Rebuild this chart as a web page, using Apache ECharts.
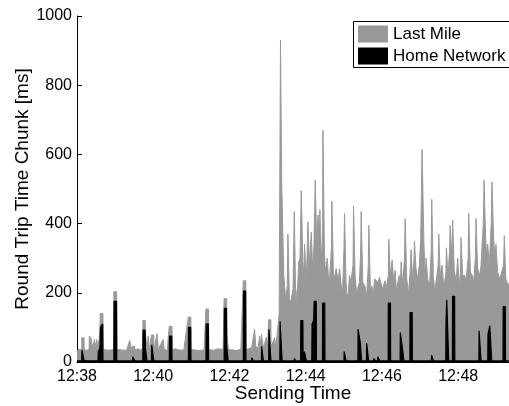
<!DOCTYPE html>
<html>
<head>
<meta charset="utf-8">
<script src="https://cdn.jsdelivr.net/npm/echarts@6/dist/echarts.min.js"></script>
<style>
html,body{margin:0;padding:0;background:#fff;}
#chart{width:509px;height:406px;}
</style>
</head>
<body>
<div id="chart"></div>
<script>
// x values: seconds after 12:38:00
var xTickLabels = ['12:38','12:40','12:42','12:44','12:46','12:48'];
var seriesNames = ['Last Mile','Home Network'];

// Last Mile (gray area top), [seconds, ms]
var lastMile = [[0,30],[2,36],[7.4,36],[7.6,70],[11,70],[11.4,36],[15,34],[19,36],[19.5,75],[21,75],[22,68],[24,72],[25,40],[27.5,65],[29,65],[30,38],[31,65],[32,38],[33,55],[35,65],[36.5,120],[36.8,140],[40.8,140],[41.2,36],[50,34],[57.7,36],[58,203],[62.5,203],[62.9,36],[70,35],[78,34],[83,63],[85,63],[85.5,38],[87.3,45],[90.8,45],[91.2,35],[96,38],[100,35],[103.4,40],[103.7,120],[107.5,120],[107.9,80],[109.8,75],[110.3,36],[112,75],[113.5,75],[114,36],[117.2,78],[120.8,78],[121.2,36],[126,82],[127.5,82],[128,36],[135.5,65],[137,65],[137.5,36],[142,34],[145.2,103],[149.5,103],[149.9,36],[155,38],[160,35],[168,34],[175.2,130],[179.2,130],[179.6,36],[185,35],[192,33],[200,35],[202.9,153],[207,153],[207.4,36],[215,34],[222,38],[230,36],[231.5,183],[235.5,183],[235.9,80],[237.8,80],[238.2,36],[245,35],[252,33],[258,38],[261.7,235],[265.7,235],[266.1,36],[270,38],[275,42],[277.5,42],[279.5,95],[281,95],[281.5,45],[285,40],[287.5,75],[289,75],[289.5,45],[290.3,80],[293.2,80],[293.6,40],[298,72],[299.5,72],[300,45],[301.7,122],[305.1,122],[305.5,45],[311,70],[312.5,70],[313,40],[316,45],[318.2,140],[319.4,140],[320.3,930],[321.6,930],[322.2,520],[324.5,515],[325.5,250],[328.5,180],[331,220],[332,370],[333.4,370],[334.5,170],[337,180],[340,210],[342,435],[343.4,435],[344.5,165],[346,200],[347.4,220],[349,290],[351,300],[353,495],[354.4,495],[355.5,290],[357,250],[358.2,340],[359.6,340],[360.8,230],[362,300],[363.5,405],[364.9,405],[366,280],[368.7,375],[370.1,375],[371.2,260],[373,340],[375,525],[376.4,525],[377.4,330],[379.2,425],[380.6,425],[381.5,360],[382.3,440],[383.7,440],[384.8,300],[386.5,350],[387.1,670],[388.5,670],[389.5,320],[391,260],[394,300],[396,240],[398,250],[400.5,330],[401.2,465],[402.6,465],[403.6,260],[405,240],[408,270],[409.4,270],[410.5,240],[412,250],[413.3,270],[414.7,270],[416,220],[418,200],[420.3,330],[421.1,430],[422.5,430],[423.5,230],[425,190],[427.1,200],[429,250],[431,230],[434.5,280],[435.3,450],[436.7,450],[437.8,250],[440,200],[442.8,200],[444.5,230],[446.5,320],[447.3,435],[448.7,435],[449.8,230],[453.3,220],[456,190],[458.5,280],[459.4,395],[460.8,395],[461.8,210],[464,220],[466.4,200],[468.5,240],[471.6,240],[474,230],[476,245],[478.4,240],[481,210],[484.7,235],[487,215],[490,250],[490.8,355],[492.2,355],[493.2,250],[496.1,295],[497.5,295],[498.5,230],[500.8,265],[502.2,265],[503,200],[505,230],[507.2,250],[509,220],[510.2,290],[511.6,290],[512.5,220],[515.5,300],[516.5,415],[517.9,415],[519,240],[521.9,200],[524,250],[525.9,325],[527.3,325],[528.5,230],[530.3,290],[531.2,350],[532.6,350],[533.6,270],[536,240],[539,280],[541,360],[543.2,615],[544.6,615],[546,350],[548,250],[549.5,300],[550.9,300],[552,240],[555,220],[557.5,320],[558.4,470],[559.8,470],[560.9,250],[563.3,200],[565,230],[568.5,280],[569.4,370],[570.8,370],[571.8,250],[574.7,280],[576.1,280],[577,220],[580.5,250],[581.5,330],[582.9,330],[584,250],[586.4,320],[587.3,395],[588.7,395],[589.5,300],[591.4,410],[592.8,410],[593.8,260],[597,240],[599.3,300],[600.7,300],[601.5,220],[603.6,260],[604.5,360],[605.9,360],[607,250],[610.5,250],[612,230],[615.7,300],[616.6,430],[618,430],[619.2,260],[622.5,250],[624.5,230],[627,300],[628.1,415],[629.5,415],[630.6,270],[634,250],[636,280],[639.5,400],[640.7,525],[642.1,525],[643.2,360],[645,300],[646.4,340],[647.8,340],[649,280],[652,400],[653.2,520],[654.6,520],[655.7,360],[658,300],[659.5,340],[660.9,340],[662,260],[665.5,240],[667,250],[671.5,280],[672.6,365],[674,365],[675,240],[677,230],[679.6,225],[682,220]];

// Home Network (black area), [seconds, ms]
var homeNetwork = [[0,3],[7.5,3],[7.8,35],[10.8,35],[11.2,4],[33,3],[33.5,30],[36,40],[37,100],[40.5,110],[40.9,3],[58,3],[58.3,175],[62.2,175],[62.6,3],[87.5,3],[87.8,15],[90.6,15],[91,3],[103.6,3],[103.9,92],[107.3,92],[107.7,40],[109.7,40],[110.1,3],[117.3,3],[117.6,50],[120.6,50],[121,3],[145.3,3],[145.6,75],[149.2,75],[149.6,3],[175.3,3],[175.6,100],[179,100],[179.4,3],[203,3],[203.3,110],[206.8,110],[207.2,3],[231.6,3],[231.9,155],[235.3,155],[235.7,45],[237.6,45],[238,3],[261.8,3],[262.1,205],[265.5,205],[265.9,3],[274.8,3],[275.1,12],[277.6,12],[278,3],[290.3,3],[290.6,45],[293,45],[293.4,3],[301.8,3],[302.1,95],[304.9,95],[305.3,3],[319.3,3],[319.6,118],[322.5,118],[322.9,3],[341.8,3],[342.1,10],[344.6,10],[345,3],[352,3],[352.2,120],[355.6,120],[355.9,3],[357.7,3],[358,30],[360.7,30],[361.1,3],[369.6,3],[370,110],[372.5,120],[373.3,175],[376.6,175],[376.9,3],[386.4,3],[386.6,170],[390,170],[390.3,3],[420.2,3],[420.5,30],[423.1,30],[423.5,3],[442.2,3],[442.4,95],[445.5,95],[446,55],[447.6,55],[448,3],[455.6,3],[455.9,55],[458.7,55],[459.1,3],[466.8,3],[467.1,10],[469.6,10],[470,3],[473.3,3],[473.6,15],[476.3,15],[476.7,3],[489.8,3],[490,170],[493.4,170],[493.7,3],[508.6,3],[508.9,85],[511.4,85],[511.9,45],[514.3,45],[514.7,3],[524,3],[524.2,143],[527.6,143],[527.9,3],[557.8,3],[558.1,20],[560.6,20],[561,3],[580.5,3],[580.8,110],[582,180],[584.8,180],[585.1,3],[590.9,3],[591.1,190],[594.4,190],[594.7,3],[632.6,3],[632.9,90],[635.7,90],[636.1,3],[646.6,3],[646.9,80],[649.4,80],[649.8,105],[652.4,105],[652.8,3],[670.6,3],[670.8,160],[674.2,160],[674.5,3],[682,3]];

var FONT = 'Liberation Sans, Arial, Helvetica, sans-serif';
var chart = echarts.init(document.getElementById('chart'), null, {renderer:'canvas'});
chart.setOption({
  animation: false,
  backgroundColor: '#fff',
  grid: {left: 77, right: 0, top: 16, bottom: 44, containLabel: false, outerBoundsMode: 'none'},
  graphic: [{
    type: 'rect', z: 90,
    shape: {x: 353.5, y: 21.5, width: 175, height: 46},
    style: {fill: '#fff', stroke: '#000', lineWidth: 1}
  }],
  legend: {
    data: seriesNames,
    orient: 'vertical',
    left: 353, top: 21,
    itemWidth: 30, itemHeight: 17, itemGap: 2,
    icon: 'rect',
    padding: [3, 0, 3, 5],
    z: 100,
    textStyle: {fontFamily: FONT, fontSize: 17, color: '#000', lineHeight: 20},
    selectedMode: false
  },
  xAxis: {
    type: 'value', min: 0, max: 680, interval: 120,
    name: 'Sending Time', nameLocation: 'middle', nameGap: 22, nameMoveOverlap: false,
    nameTextStyle: {fontFamily: FONT, fontSize: 19, color: '#000'},
    axisLine: {show: true, lineStyle: {color: '#000', width: 1}},
    axisTick: {show: false},
    splitLine: {show: false},
    axisLabel: {
      fontFamily: FONT, fontSize: 16, color: '#000', margin: 7,
      showMaxLabel: false,
      formatter: function (v) { var i = Math.round(v / 120); return (Math.abs(v - i*120) < 1e-6 && xTickLabels[i]) ? xTickLabels[i] : ''; }
    }
  },
  yAxis: {
    type: 'value', min: 0, max: 1000, interval: 200,
    name: 'Round Trip Time Chunk [ms]', nameLocation: 'middle', nameGap: 45, nameMoveOverlap: false,
    nameTextStyle: {fontFamily: FONT, fontSize: 19, color: '#000'},
    axisLine: {show: true, lineStyle: {color: '#000', width: 1}},
    axisTick: {show: true, inside: true, length: 5, lineStyle: {color: '#000'}},
    splitLine: {show: false},
    axisLabel: {fontFamily: FONT, fontSize: 16, color: '#000', margin: 5,
      formatter: function (v) { return String(v); }}
  },
  series: [
    {
      name: seriesNames[0], type: 'line', data: lastMile, symbol: 'none',
      color: '#999999',
      lineStyle: {color: '#999999', width: 1},
      areaStyle: {color: '#999999', opacity: 1},
      z: 2
    },
    {
      name: seriesNames[1], type: 'line', data: homeNetwork, symbol: 'none',
      color: '#000000',
      lineStyle: {color: '#000000', width: 1.2},
      areaStyle: {color: '#000000', opacity: 1},
      z: 3
    }
  ]
});
</script>
</body>
</html>
